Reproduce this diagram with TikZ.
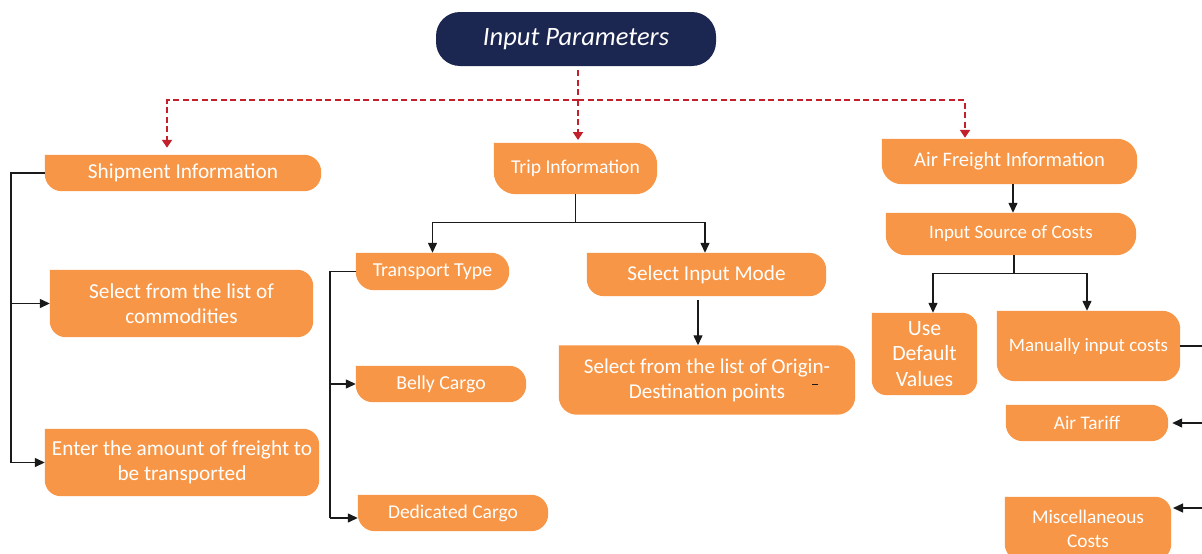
\documentclass[tikz,border=0pt]{standalone}
\usepackage{fontspec}
\setmainfont{Carlito}
\usetikzlibrary{arrows.meta,backgrounds,calc}
\definecolor{boxc}{HTML}{F79646}
\definecolor{navy}{HTML}{1B2651}
\definecolor{dashred}{HTML}{C3202B}
\definecolor{linec}{HTML}{1A1A1A}

\begin{document}
\begin{tikzpicture}[x=1pt,y=-1pt,
  lbl/.style={inner sep=0pt, text=white, align=center,
              font=\fontsize{#1}{25.5}\selectfont},
  conn/.style={draw=linec, line width=1.3pt},
  arr/.style={conn, -{Triangle[length=10pt,width=9pt]}},
  rd/.style={draw=dashred, line width=2.5pt, dash pattern=on 6pt off 3.5pt},
  rdarr/.style={rd, -{Triangle[length=8pt,width=10pt]}}]

\useasboundingbox (0,0) rectangle (1202,554);

% title
\node[lbl=26.5, font=\fontsize{26.5}{30}\selectfont\itshape, fill=navy,
      rounded corners=24pt, minimum width=280pt, minimum height=54pt]
      (ip) at (576,39) {Input Parameters};

% first level
\node[lbl=21.3, minimum width=276pt, minimum height=36pt] (ship) at (183,173) {Shipment Information};
\node[lbl=19.6, minimum width=163pt, minimum height=51pt] (trip) at (575.5,168.5) {Trip Information};
\node[lbl=20.6, minimum width=255pt, minimum height=45pt] (air) at (1009.5,161.5) {Air Freight Information};

% shipment branch
\node[lbl=21.3, minimum width=263pt, minimum height=67pt] (com) at (181.5,303.5) {Select from the list of\\commodities};
\node[lbl=21.3, minimum width=274pt, minimum height=67pt] (ent) at (182,462.5) {Enter the amount of freight to\\be transported};

% trip branch
\node[lbl=19.8, minimum width=153pt, minimum height=37pt] (tt) at (432.5,271.5) {Transport Type};
\node[lbl=21.2, minimum width=239pt, minimum height=43pt] (mode) at (706.5,274.5) {Select Input Mode};
\node[lbl=21.1, minimum width=296pt, minimum height=69pt, font=\fontsize{21.1}{25}\selectfont] (od) at (707,380) {Select from the list of Origin-\\Destination points};
\node[lbl=19.8, minimum width=170pt, minimum height=36pt] (belly) at (441,384) {Belly Cargo};
\node[lbl=19.5, minimum width=190pt, minimum height=36pt] (ded) at (453,513) {Dedicated Cargo};

% air freight branch
\node[lbl=19, minimum width=250pt, minimum height=42pt] (src) at (1011,234) {Input Source of Costs};
\node[lbl=21.8, minimum width=105pt, minimum height=82pt] (def) at (924.5,354) {Use\\Default\\Values};
\node[lbl=18.9, minimum width=183pt, minimum height=70pt] (man) at (1088.5,346) {Manually input costs};
\node[lbl=19.3, minimum width=162pt, minimum height=36pt] (tar) at (1087,423) {Air Tariff};
\node[lbl=19.3, minimum width=166pt, minimum height=63pt, font=\fontsize{19.3}{24}\selectfont] (misc) at (1088,528.5) {Miscellaneous\\Costs};

% box shapes: square top-left corner, the other three rounded
\begin{scope}[on background layer]
\foreach \n/\r in {ship/17pt, trip/22pt, air/20pt, com/16pt, ent/16pt, tt/18pt,
                   mode/17pt, od/18pt, belly/17pt, ded/17pt, src/20pt, def/15pt,
                   man/18pt, tar/17pt, misc/16pt}{
  \fill[boxc] (\n.north west)
    -- ([xshift=-\r]\n.north east) arc[start angle=90, end angle=0, radius=\r]
    -- ([yshift=\r]\n.south east) arc[start angle=0, end angle=-90, radius=\r]
    -- ([xshift=\r]\n.south west) arc[start angle=270, end angle=180, radius=\r]
    -- cycle;
}
\end{scope}

% small dark tick inside the origin-destination box
\coordinate (tickl) at (812,384.5);
\coordinate (tickr) at (818,384.5);
\draw[linec, line width=1.6pt] (tickl) -- (tickr);

% dashed distribution from the title
\coordinate (hub) at (578,100);
\coordinate (ipout) at (578,70);
\coordinate (tripin) at (578,140);
\draw[rd] (ipout) -- (hub);
\draw[rdarr] (hub) -| ([xshift=-16pt,yshift=7pt]ship.north);
\draw[rdarr] (hub) -- (tripin);
\draw[rdarr] (hub) -| ([xshift=-44.5pt,yshift=1pt]air.north);

% shipment connectors
\coordinate (sl) at (11,0);
\draw[conn] (ship.west) -- (sl |- ship.west) -- (sl |- ent.west);
\draw[arr] (sl |- com.west) -- (com.west);
\draw[arr] (sl |- ent.west) -- (ent.west);

% trip connectors
\draw[conn] (trip.south) -- ++(0,28) coordinate (tj);
\draw[arr] (tj) -| (tt.north);
\draw[arr] (tj) -| ([xshift=-1.5pt]mode.north);
\coordinate (tl) at (330,0);
\coordinate (dedy) at (0,518);
\draw[conn] (tt.west) -- (tl |- tt.west) -- (tl |- dedy);
\draw[arr] (tl |- belly.west) -- (belly.west);
\draw[arr] (tl |- dedy) -- (ded.west |- dedy);
\coordinate (mx) at (698,300);
\draw[arr] (mx) -- (mx |- od.north);

% air freight connectors
\draw[arr] ([xshift=3.5pt]air.south) -- ([xshift=2pt]src.north);
\draw[conn] ([xshift=3pt]src.south) -- ++(0,18) coordinate (sj);
\draw[arr] (sj) -| ([xshift=8.5pt]def.north);
\draw[arr] (sj) -| ([xshift=-1.5pt]man.north);
\coordinate (rr) at (1212,0);
\coordinate (miscy) at (0,508);
\coordinate (miscin) at (1173,508);
\draw[conn] (man.east) -- (rr |- man.east) -- (rr |- miscy);
\draw[arr] (rr |- tar.east) -- ([xshift=4pt]tar.east);
\draw[arr] (rr |- miscy) -- (miscin);
\end{tikzpicture}
\end{document}
